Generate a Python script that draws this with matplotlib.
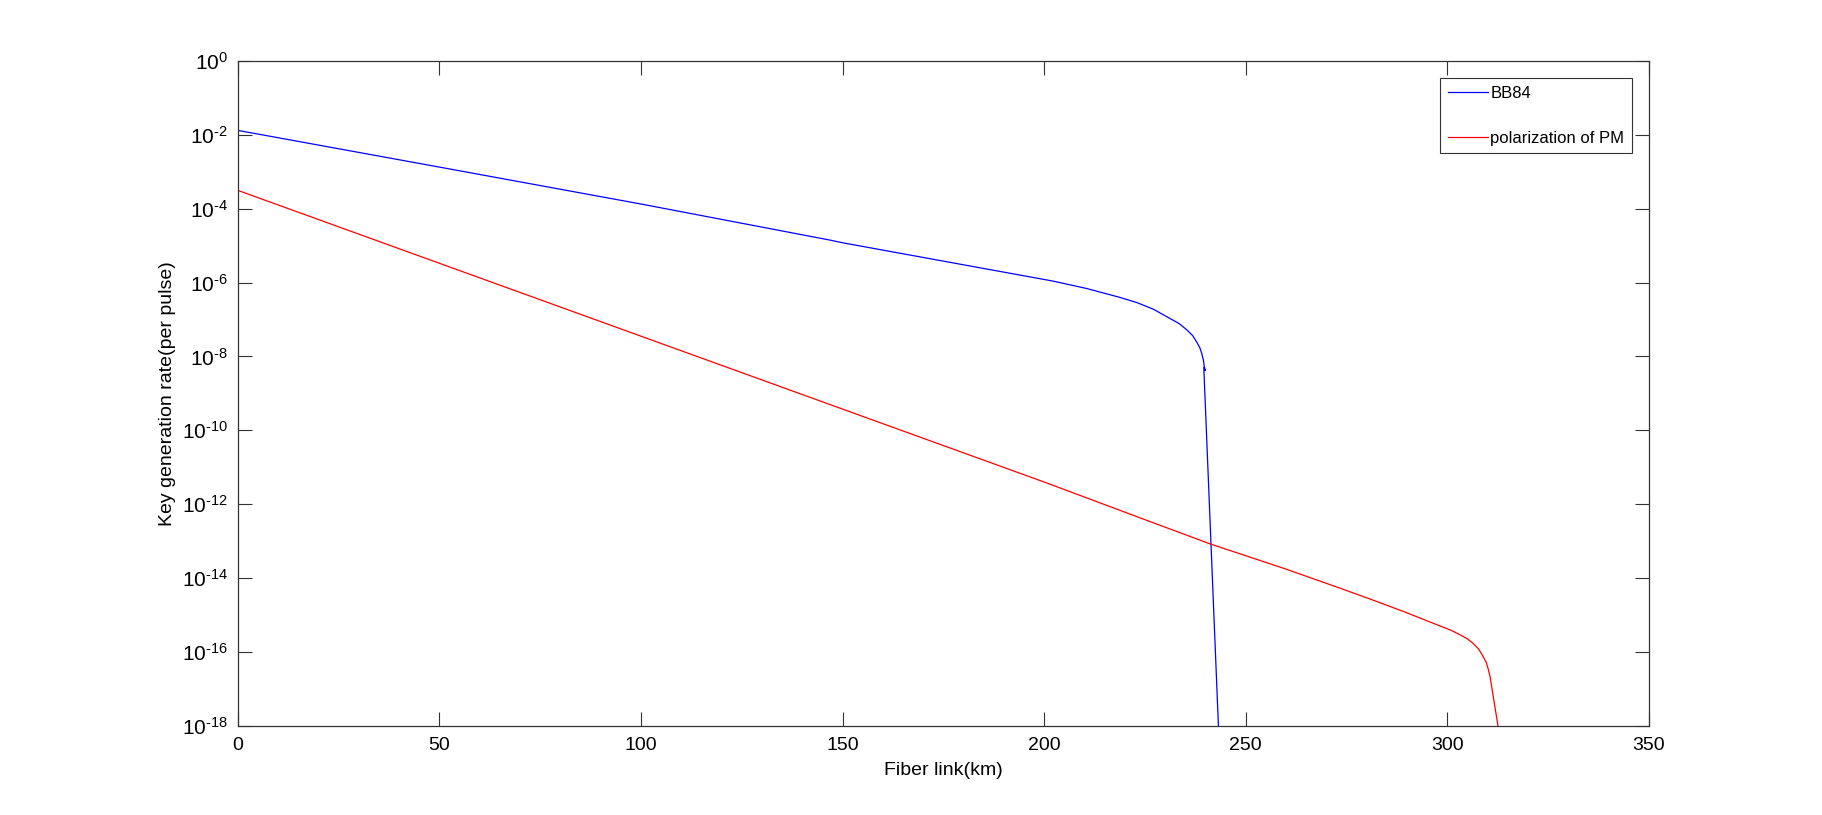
import matplotlib
matplotlib.use('Agg')
import matplotlib.pyplot as plt
import numpy as np

# fiber length (km) and log10 of key rate
bb84_km = [0, 50, 90, 100, 147, 150, 194, 202.3, 210.6, 218.8, 223, 227.1, 231.2, 233.5,
           235.4, 236.8, 237.8, 238.6, 239.1, 239.5, 239.7, 239.95, 239.6, 243.3]
bb84_log = [-1.876, -2.87, -3.67, -3.87, -4.85, -4.92, -5.795, -5.96, -6.16, -6.40, -6.54, -6.72,
            -6.97, -7.11, -7.28, -7.43, -7.60, -7.76, -7.92, -8.1, -8.26, -8.38, -8.3, -18.2]

pm_km = [0, 100, 200, 225, 241, 260, 273.5, 281.6, 289.9, 298.2, 301, 303.2, 305, 306.4, 307.8,
         308.9, 309.7, 310.2, 310.6, 312.7]
pm_log = [-3.5, -7.45, -11.4, -12.42, -13.07, -13.76, -14.28, -14.60, -14.94, -15.30, -15.42, -15.54,
          -15.65, -15.77, -15.93, -16.13, -16.3, -16.49, -16.67, -18.1]

labels = ['BB84', 'polarization of PM']

plt.rcParams['font.family'] = ['Liberation Sans', 'DejaVu Sans']
plt.rcParams['mathtext.fontset'] = 'custom'
plt.rcParams['mathtext.rm'] = 'Liberation Sans'
plt.rcParams['mathtext.default'] = 'regular'
plt.rcParams['axes.unicode_minus'] = False

fig = plt.figure(figsize=(18.22, 8.15), dpi=100)
ax = fig.add_axes([0.1305, 0.1096, 0.7745, 0.8154])

ax.plot(bb84_km, 10.0**np.array(bb84_log), color='#0000ff', lw=0.9, label=labels[0])
ax.plot(pm_km, 10.0**np.array(pm_log), color='#ff0000', lw=0.9, label=labels[1])

ax.set_yscale('log')
ax.set_xlim(0, 350)
ax.set_ylim(1e-18, 1e0)
ax.set_xticks(np.arange(0, 351, 50))
ax.set_yticks([10.0**k for k in range(-18, 1, 2)])
ax.yaxis.set_minor_locator(matplotlib.ticker.NullLocator())


def exp_label(v, pos):
    e = int(round(np.log10(v)))
    if e < 0:
        return r'$10^{\text{-%d}}$' % (-e)
    return r'$10^{%d}$' % e


ax.yaxis.set_major_formatter(matplotlib.ticker.FuncFormatter(exp_label))

ax.tick_params(which='major', direction='in', length=10, width=0.8, color='#333333',
               top=True, right=True, labelsize=14, pad=8)
ax.tick_params(axis='y', labelsize=15, pad=7)
for s in ax.spines.values():
    s.set_color('#333333')
    s.set_linewidth(0.9)

ax.set_xlabel('Fiber link(km)', fontsize=14, labelpad=6)
ax.set_ylabel('Key generation rate(per pulse)', fontsize=14, labelpad=4)

leg = ax.legend(loc='upper right', bbox_to_anchor=(0.988, 0.974), borderaxespad=0,
                fontsize=12, labelspacing=1.8, handlelength=2.4, handletextpad=0.15,
                borderpad=0.45, fancybox=False, framealpha=1, edgecolor='#333333')
leg.get_frame().set_linewidth(0.8)

fig.savefig('out.png', dpi=100)
